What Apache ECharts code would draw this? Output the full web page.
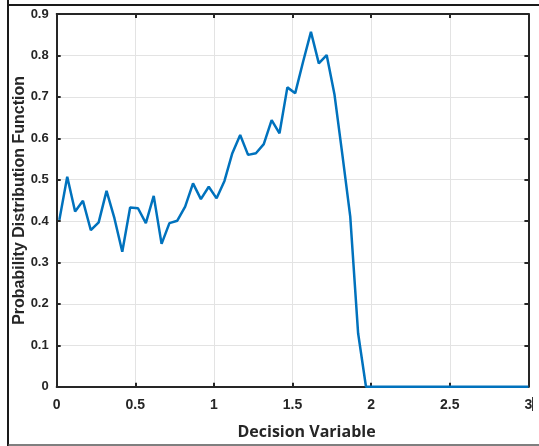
<!DOCTYPE html>
<html>
<head>
<meta charset="utf-8">
<script src="https://cdn.jsdelivr.net/npm/echarts@6/dist/echarts.min.js"></script>
<style>
  html, body { margin: 0; padding: 0; background: #ffffff; }
  #chart { width: 539px; height: 446px; }
</style>
</head>
<body>
<div id="chart"></div>
<script>
// Sample positions of the estimated density (decision variable)
const xValues = [
  0.017, 0.067, 0.117, 0.167, 0.217, 0.267, 0.317, 0.367, 0.417, 0.467,
  0.517, 0.567, 0.617, 0.667, 0.717, 0.767, 0.817, 0.867, 0.917, 0.967,
  1.017, 1.067, 1.117, 1.167, 1.217, 1.267, 1.317, 1.367, 1.417, 1.467,
  1.517, 1.567, 1.617, 1.667, 1.717, 1.767, 1.817, 1.867, 1.917, 1.967,
  3.0
];
// Probability density at each position
const pdfValues = [
  0.403, 0.507, 0.423, 0.449, 0.378, 0.397, 0.473, 0.407, 0.326, 0.433,
  0.431, 0.395, 0.461, 0.345, 0.395, 0.401, 0.435, 0.491, 0.453, 0.483,
  0.455, 0.497, 0.564, 0.608, 0.560, 0.564, 0.586, 0.644, 0.612, 0.723,
  0.709, 0.785, 0.857, 0.781, 0.801, 0.705, 0.560, 0.411, 0.129, 0.000,
  0.000
];
const xTickLabels = ['0', '0.5', '1', '1.5', '2', '2.5', '3'];
const yTickLabels = ['0', '0.1', '0.2', '0.3', '0.4', '0.5', '0.6', '0.7', '0.8', '0.9'];

const axisDark = '#262626';
const gridGray = '#e3e3e3';
const tickFont = { fontFamily: 'Liberation Sans, Arial, sans-serif', fontWeight: 'bold', color: '#262626' };

const chart = echarts.init(document.getElementById('chart'), null, { renderer: 'canvas' });

const seriesData = xValues.map((x, i) => [x, pdfValues[i]]);

chart.setOption({
  animation: false,
  backgroundColor: '#ffffff',
  grid: { left: 56.7, right: 10.6, top: 14.1, bottom: 59.3, containLabel: false, outerBoundsMode: 'none' },
  xAxis: [
    {
      type: 'value', min: 0, max: 3, interval: 0.5, position: 'bottom',
      name: 'Decision Variable', nameLocation: 'middle', nameGap: 38, nameMoveOverlap: false,
      nameTextStyle: { fontFamily: 'Open Sans, sans-serif', fontWeight: 'bold', fontSize: 16, color: '#262626', padding: [0, 0, 0, 28] },
      axisLine: { show: true, onZero: false, lineStyle: { color: axisDark, width: 2 } },
      axisTick: { show: true, inside: true, length: 4, lineStyle: { color: axisDark, width: 2 } },
      axisLabel: Object.assign({ margin: 11, fontSize: 14, formatter: v => xTickLabels[Math.round(v / 0.5)] }, tickFont),
      splitLine: { show: true, lineStyle: { color: gridGray, width: 1 } }
    },
    {
      type: 'value', min: 0, max: 3, interval: 0.5, position: 'top',
      axisLine: { show: true, onZero: false, lineStyle: { color: axisDark, width: 2 } },
      axisTick: { show: true, inside: true, length: 4, lineStyle: { color: axisDark, width: 2 } },
      axisLabel: { show: false },
      splitLine: { show: false }
    }
  ],
  yAxis: [
    {
      type: 'value', min: 0, max: 0.9, interval: 0.1, position: 'left',
      name: 'Probability Distribution Function', nameLocation: 'middle', nameGap: 29, nameMoveOverlap: false,
      nameTextStyle: { fontFamily: 'Liberation Sans, Arial, sans-serif', fontWeight: 'bold', fontSize: 16, color: '#262626' },
      axisLine: { show: true, onZero: false, lineStyle: { color: axisDark, width: 2 } },
      axisTick: { show: true, inside: true, length: 4, lineStyle: { color: axisDark, width: 2 } },
      axisLabel: Object.assign({ margin: 8, fontSize: 13, formatter: v => yTickLabels[Math.round(v * 10)] }, tickFont),
      splitLine: { show: true, lineStyle: { color: gridGray, width: 1 } }
    },
    {
      type: 'value', min: 0, max: 0.9, interval: 0.1, position: 'right',
      axisLine: { show: true, onZero: false, lineStyle: { color: axisDark, width: 2 } },
      axisTick: { show: true, inside: true, length: 4, lineStyle: { color: axisDark, width: 2 } },
      axisLabel: { show: false },
      splitLine: { show: false }
    }
  ],
  series: [
    {
      type: 'line',
      xAxisIndex: 0, yAxisIndex: 0,
      data: seriesData,
      showSymbol: false,
      lineStyle: { color: '#0072BD', width: 2.5 },
      z: 1
    }
  ],
  graphic: [
    // outer figure frame
    { type: 'line', shape: { x1: 8, y1: 0, x2: 8, y2: 446 }, style: { stroke: '#1a1a1a', lineWidth: 2 }, silent: true },
    { type: 'line', shape: { x1: 8, y1: 5, x2: 539, y2: 5 }, style: { stroke: '#1a1a1a', lineWidth: 2 }, silent: true },
    { type: 'line', shape: { x1: 8, y1: 445, x2: 539, y2: 445 }, style: { stroke: '#555555', lineWidth: 1.5 }, silent: true },
    { type: 'line', shape: { x1: 532.5, y1: 397, x2: 532.5, y2: 411 }, style: { stroke: '#333333', lineWidth: 1 }, silent: true }
  ]
});
</script>
</body>
</html>
